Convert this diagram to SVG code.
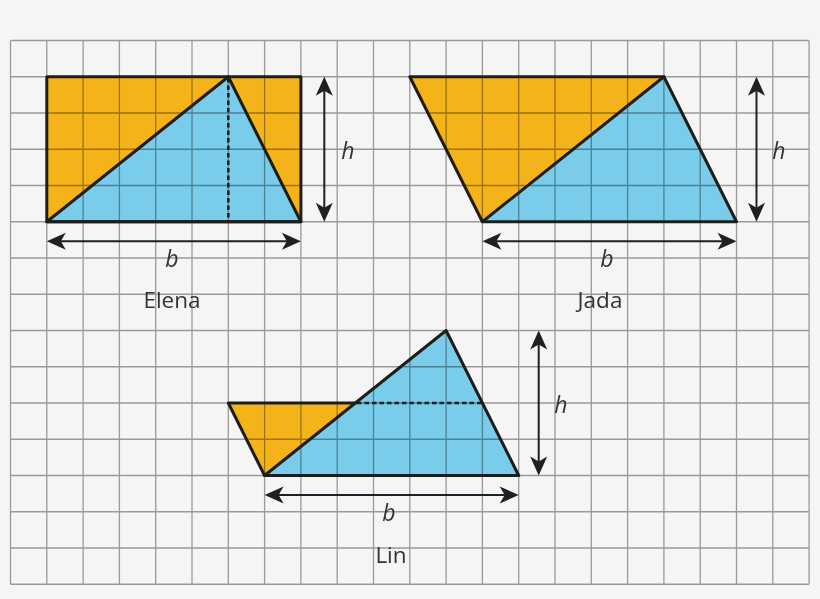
<svg xmlns="http://www.w3.org/2000/svg" width="820" height="599" viewBox="0 0 820 599">
  <style>
    .grid { fill: none; stroke: #9a9a9a; stroke-width: 1.3; }
    .org { fill: #FFBB1B; mix-blend-mode: multiply; }
    .blu { fill: #7ED5F4; mix-blend-mode: multiply; }
    .edge { fill: none; stroke: #1d1d1b; stroke-width: 3; stroke-linejoin: round; stroke-linecap: round; }
    .dash { fill: none; stroke: #1d1d1b; stroke-width: 2.6; stroke-dasharray: 4.5 3; }
    .arrow { fill: none; stroke: #231f20; stroke-width: 2; marker-start: url(#head); marker-end: url(#head); }
    .var { font-family: "Open Sans", "Noto Sans", sans-serif; font-style: italic; font-size: 23px; fill: #333; text-anchor: middle; }
    .name { font-family: "Open Sans", "Noto Sans", sans-serif; font-size: 22.5px; fill: #333; text-anchor: middle; }
  </style>
  <defs>
    <marker id="head" viewBox="-13 -10 22 20" refX="0" refY="0" markerWidth="22" markerHeight="20" markerUnits="userSpaceOnUse" orient="auto-start-reverse">
      <path d="M8,0 L-11,-8.5 L-6,0 L-11,8.5 Z" fill="#231f20"/>
    </marker>
  </defs>
  <rect width="820" height="599" fill="#F5F5F5"/>
  <path id="grid" class="grid" d="M10.5 40.5V584.25M46.8 40.5V584.25M83.1 40.5V584.25M119.4 40.5V584.25M155.7 40.5V584.25M192 40.5V584.25M228.3 40.5V584.25M264.6 40.5V584.25M300.9 40.5V584.25M337.2 40.5V584.25M373.5 40.5V584.25M409.8 40.5V584.25M446.1 40.5V584.25M482.4 40.5V584.25M518.7 40.5V584.25M555 40.5V584.25M591.3 40.5V584.25M627.6 40.5V584.25M663.9 40.5V584.25M700.2 40.5V584.25M736.5 40.5V584.25M772.8 40.5V584.25M809.1 40.5V584.25M10.5 40.5H809.1M10.5 76.75H809.1M10.5 113H809.1M10.5 149.25H809.1M10.5 185.5H809.1M10.5 221.75H809.1M10.5 258H809.1M10.5 294.25H809.1M10.5 330.5H809.1M10.5 366.75H809.1M10.5 403H809.1M10.5 439.25H809.1M10.5 475.5H809.1M10.5 511.75H809.1M10.5 548H809.1M10.5 584.25H809.1"/>

  <g id="elena">
    <polygon class="org" points="46.8,76.75 228.3,76.75 46.8,221.75"/>
    <polygon class="org" points="228.3,76.75 300.9,76.75 300.9,221.75"/>
    <polygon class="blu" points="46.8,221.75 228.3,76.75 300.9,221.75"/>
    <line class="dash" x1="228.3" y1="78" x2="228.3" y2="221"/>
    <rect class="edge" x="46.8" y="76.75" width="254.1" height="145"/>
    <polygon class="edge" points="46.8,221.75 228.3,76.75 300.9,221.75"/>
    <text class="var" x="172" y="267">b</text>
    <text class="var" x="348" y="158.5">h</text>
    <text class="name" x="172" y="308">Elena</text>
  </g>

  <g id="jada">
    <polygon class="org" points="409.8,76.75 663.9,76.75 482.4,221.75"/>
    <polygon class="blu" points="482.4,221.75 663.9,76.75 736.5,221.75"/>
    <polygon class="edge" points="409.8,76.75 663.9,76.75 736.5,221.75 482.4,221.75"/>
    <line class="edge" x1="482.4" y1="221.75" x2="663.9" y2="76.75"/>
    <text class="var" x="607" y="267">b</text>
    <text class="var" x="779" y="158.5">h</text>
    <text class="name" x="600" y="308">Jada</text>
  </g>

  <g id="lin">
    <polygon class="org" points="228.3,403 355.35,403 264.6,475.5"/>
    <polygon class="blu" points="264.6,475.5 446.1,330.5 518.7,475.5"/>
    <line class="dash" x1="357" y1="403" x2="481" y2="403"/>
    <polyline class="edge" points="355.35,403 228.3,403 264.6,475.5"/>
    <polygon class="edge" points="264.6,475.5 446.1,330.5 518.7,475.5"/>
    <text class="var" x="389" y="521">b</text>
    <text class="var" x="561" y="412.5">h</text>
    <text class="name" x="391" y="563">Lin</text>
  </g>

  <g id="connectors">
    <line class="arrow" x1="54.8" y1="241.25" x2="292.9" y2="241.25"/>
    <line class="arrow" x1="324.3" y1="84.75" x2="324.3" y2="213.75"/>
    <line class="arrow" x1="490.4" y1="241.25" x2="728.5" y2="241.25"/>
    <line class="arrow" x1="756.5" y1="84.75" x2="756.5" y2="213.75"/>
    <line class="arrow" x1="272.6" y1="495" x2="510.7" y2="495"/>
    <line class="arrow" x1="538.7" y1="338.5" x2="538.7" y2="467.5"/>
  </g>
</svg>
